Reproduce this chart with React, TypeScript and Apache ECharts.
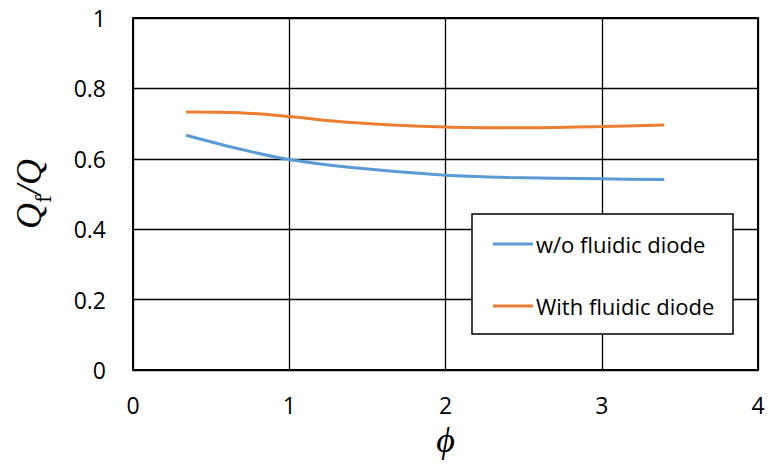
import React, { useEffect, useRef } from "react";
import * as echarts from "echarts";

const phiValues = [0.34, 0.68, 1.0, 1.4, 2.0, 2.4, 3.0, 3.4];
const withoutDiode = [0.667, 0.628, 0.598, 0.575, 0.553, 0.547, 0.543, 0.541];
const withDiode = [0.733, 0.731, 0.72, 0.703, 0.69, 0.688, 0.692, 0.696];
const seriesNames = ["w/o fluidic diode", "With fluidic diode"];
const xTicks = [0, 1, 2, 3, 4];
const yTicks = [0, 0.2, 0.4, 0.6, 0.8, 1];

export default function App() {
  const ref = useRef<HTMLDivElement>(null);
  useEffect(() => {
    if (!ref.current) return;
    const chart = echarts.init(ref.current, null, { renderer: "svg" });
    const labelFont = "'Open Sans', sans-serif";
    chart.setOption({
      animation: false,
      backgroundColor: "#ffffff",
      grid: {
        left: 133,
        top: 18,
        width: 625,
        height: 352,
        show: true,
        borderColor: "#000",
        borderWidth: 2,
        backgroundColor: "transparent",
      },
      xAxis: {
        type: "value",
        min: xTicks[0],
        max: xTicks[xTicks.length - 1],
        interval: 1,
        axisLine: { show: true, lineStyle: { color: "#000", width: 2 } },
        axisTick: { show: false },
        splitLine: { show: true, lineStyle: { color: "#000", width: 1.3 } },
        axisLabel: { color: "#000", fontSize: 23, fontFamily: labelFont, margin: 23 },
        name: "ϕ",
        nameLocation: "middle",
        nameGap: 52,
        nameTextStyle: { fontFamily: "'Liberation Serif', serif", fontStyle: "italic", fontSize: 36, color: "#000" },
      },
      yAxis: {
        type: "value",
        min: yTicks[0],
        max: yTicks[yTicks.length - 1],
        interval: 0.2,
        axisLine: { show: true, lineStyle: { color: "#000", width: 2 } },
        axisTick: { show: false },
        splitLine: { show: true, lineStyle: { color: "#000", width: 1.3 } },
        axisLabel: {
          color: "#000",
          fontSize: 23,
          fontFamily: labelFont,
          margin: 27,
          formatter: (v: number) => String(Math.round(v * 10) / 10),
        },
        name: "{q|Q}{s|f}{q|/Q}",
        nameLocation: "middle",
        nameRotate: 90,
        nameGap: 86,
        nameTextStyle: {
          rich: {
            q: { fontFamily: "'Liberation Serif', serif", fontStyle: "italic", fontSize: 36, color: "#000", lineHeight: 40, verticalAlign: "bottom" },
            s: { fontFamily: "'Liberation Serif', serif", fontSize: 24, color: "#000", lineHeight: 40, verticalAlign: "bottom", padding: [0, 0, -8, 0] },
          },
        },
      },
      legend: {
        orient: "vertical",
        left: 493,
        top: 233,
        z: 10,
        icon: "rect",
        itemWidth: 40,
        itemHeight: 3,
        itemGap: 40,
        padding: 0,
        textStyle: { color: "#000", fontSize: 22, fontFamily: labelFont, lineHeight: 20, padding: [0, 0, 0, -2] },
        data: seriesNames,
      },
      graphic: [
        {
          type: "rect",
          shape: { x: 472, y: 214, width: 261, height: 120 },
          style: { fill: "#fff", stroke: "#000", lineWidth: 1.5 },
          z: 3,
        },
      ],
      series: [
        {
          name: seriesNames[0],
          type: "line",
          smooth: 0.35,
          showSymbol: false,
          lineStyle: { color: "#5B9BD5", width: 3 },
          itemStyle: { color: "#5B9BD5" },
          data: phiValues.map((p, i) => [p, withoutDiode[i]]),
        },
        {
          name: seriesNames[1],
          type: "line",
          smooth: 0.35,
          showSymbol: false,
          lineStyle: { color: "#ED7D31", width: 3 },
          itemStyle: { color: "#ED7D31" },
          data: phiValues.map((p, i) => [p, withDiode[i]]),
        },
      ],
    });
    return () => chart.dispose();
  }, []);
  return (
    <div
      ref={ref}
      style={{ position: "absolute", left: 0, top: 0, width: 770, height: 466 }}
    />
  );
}
